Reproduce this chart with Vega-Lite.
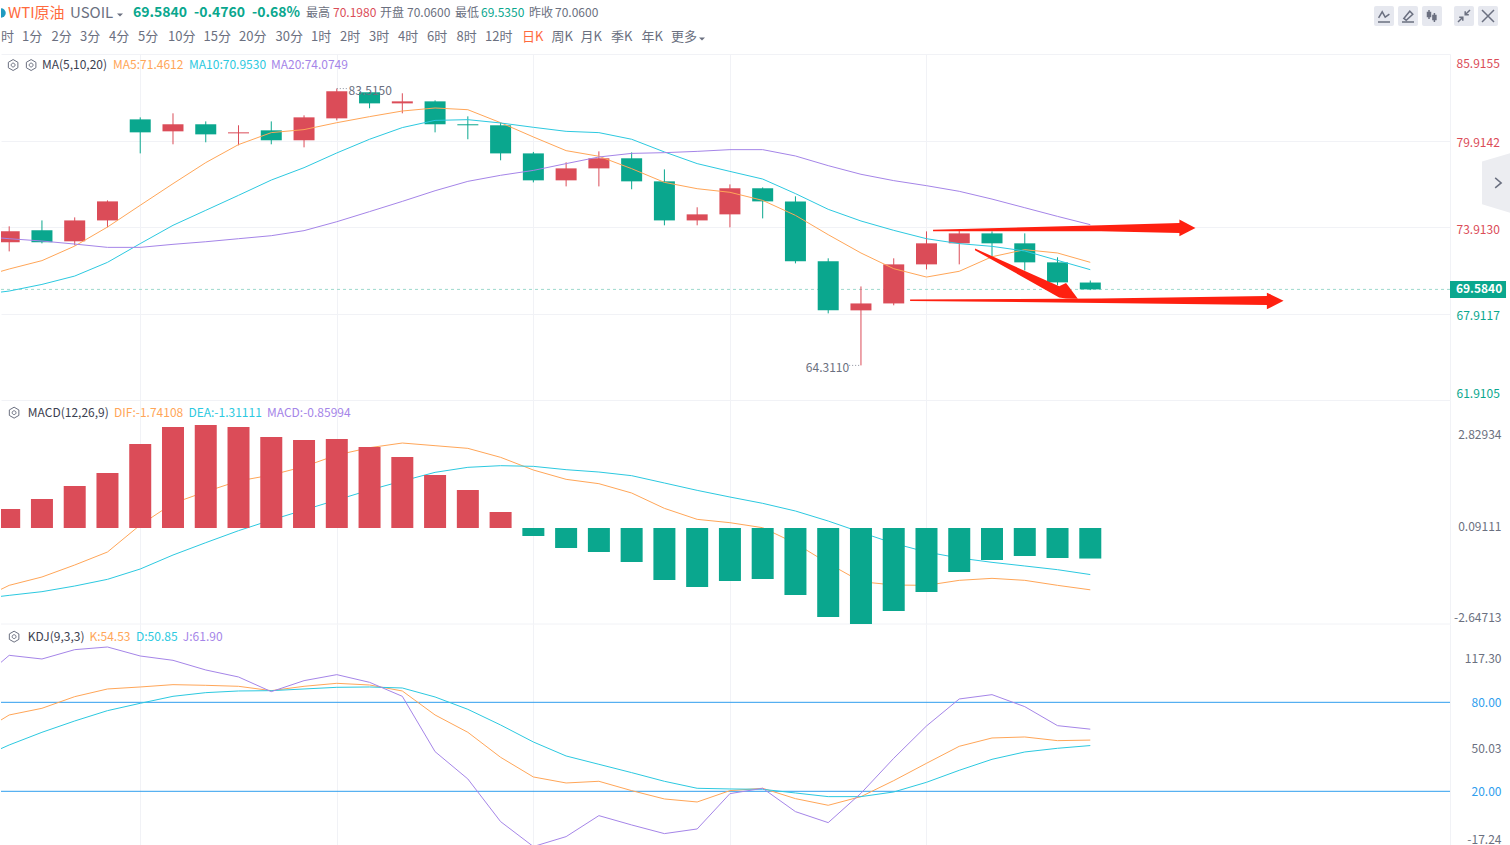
{
  "$schema": "https://vega.github.io/schema/vega-lite/v6.json",
  "description": "WTI USOIL daily candles with MA, MACD and KDJ panels",
  "background": "#ffffff",
  "padding": 0,
  "spacing": 0,
  "bounds": "flush",
  "resolve": {"scale": {"color": "independent", "shape": "independent"}},
  "config": {
    "font": "Noto Sans CJK SC",
    "text": {"font": "Noto Sans CJK SC"},
    "axis": {"labelFont": "Noto Sans CJK SC"}
  },
  "datasets": {
    "candles": [
      {"i":0,"open":72.85,"high":73.96,"low":72.22,"close":73.61},
      {"i":1,"open":73.68,"high":74.37,"low":72.78,"close":72.85},
      {"i":2,"open":72.92,"high":74.58,"low":72.64,"close":74.37},
      {"i":3,"open":74.37,"high":75.76,"low":73.89,"close":75.69},
      {"i":4,"open":81.38,"high":81.52,"low":79.02,"close":80.48},
      {"i":5,"open":80.55,"high":81.80,"low":79.65,"close":81.04},
      {"i":6,"open":81.04,"high":81.24,"low":79.79,"close":80.34},
      {"i":7,"open":80.41,"high":80.97,"low":79.58,"close":80.48},
      {"i":8,"open":80.62,"high":81.24,"low":79.65,"close":79.93},
      {"i":9,"open":79.93,"high":81.66,"low":79.44,"close":81.52},
      {"i":10,"open":81.45,"high":83.515,"low":81.31,"close":83.33},
      {"i":11,"open":83.26,"high":83.26,"low":82.15,"close":82.49},
      {"i":12,"open":82.49,"high":83.19,"low":81.80,"close":82.63},
      {"i":13,"open":82.63,"high":82.70,"low":80.48,"close":81.04},
      {"i":14,"open":81.04,"high":81.59,"low":80.00,"close":80.97},
      {"i":15,"open":80.97,"high":81.15,"low":78.54,"close":79.02},
      {"i":16,"open":79.02,"high":79.12,"low":77.01,"close":77.15},
      {"i":17,"open":77.15,"high":78.40,"low":76.73,"close":77.98},
      {"i":18,"open":77.98,"high":79.16,"low":76.73,"close":78.68},
      {"i":19,"open":78.68,"high":79.09,"low":76.53,"close":77.08},
      {"i":20,"open":77.08,"high":77.91,"low":74.03,"close":74.37},
      {"i":21,"open":74.37,"high":75.28,"low":74.03,"close":74.79},
      {"i":22,"open":74.79,"high":76.87,"low":73.89,"close":76.60},
      {"i":23,"open":76.60,"high":76.66,"low":74.51,"close":75.69},
      {"i":24,"open":75.69,"high":76.04,"low":71.39,"close":71.53},
      {"i":25,"open":71.53,"high":71.74,"low":67.92,"close":68.13},
      {"i":26,"open":68.13,"high":69.79,"low":64.311,"close":68.61},
      {"i":27,"open":68.61,"high":71.74,"low":68.48,"close":71.32},
      {"i":28,"open":71.32,"high":73.61,"low":70.97,"close":72.78},
      {"i":29,"open":72.78,"high":73.75,"low":71.32,"close":73.47},
      {"i":30,"open":73.47,"high":73.61,"low":71.83,"close":72.78},
      {"i":31,"open":72.78,"high":73.47,"low":70.90,"close":71.46},
      {"i":32,"open":71.46,"high":71.81,"low":69.86,"close":70.07},
      {"i":33,"open":70.06,"high":70.198,"low":69.535,"close":69.584}
    ],
    "ma": [
      {"i":-1,"ma5":70.35,"ma10":69.19,"ma20":73.29},
      {"i":0,"ma5":71.00,"ma10":69.47,"ma20":73.10},
      {"i":1,"ma5":71.58,"ma10":69.93,"ma20":72.94},
      {"i":2,"ma5":72.59,"ma10":70.51,"ma20":72.73},
      {"i":3,"ma5":73.91,"ma10":71.46,"ma20":72.50},
      {"i":4,"ma5":75.42,"ma10":72.76,"ma20":72.50},
      {"i":5,"ma5":76.92,"ma10":74.03,"ma20":72.71},
      {"i":6,"ma5":78.38,"ma10":75.07,"ma20":72.89},
      {"i":7,"ma5":79.63,"ma10":76.11,"ma20":73.10},
      {"i":8,"ma5":80.46,"ma10":77.17,"ma20":73.31},
      {"i":9,"ma5":80.67,"ma10":78.03,"ma20":73.66},
      {"i":10,"ma5":81.15,"ma10":79.05,"ma20":74.28},
      {"i":11,"ma5":81.57,"ma10":80.00,"ma20":74.98},
      {"i":12,"ma5":81.96,"ma10":80.81,"ma20":75.69},
      {"i":13,"ma5":82.17,"ma10":81.31,"ma20":76.43},
      {"i":14,"ma5":82.05,"ma10":81.36,"ma20":77.08},
      {"i":15,"ma5":81.15,"ma10":81.13,"ma20":77.50},
      {"i":16,"ma5":80.16,"ma10":80.83,"ma20":77.84},
      {"i":17,"ma5":79.21,"ma10":80.55,"ma20":78.31},
      {"i":18,"ma5":78.82,"ma10":80.46,"ma20":78.77},
      {"i":19,"ma5":77.96,"ma10":80.00,"ma20":79.02},
      {"i":20,"ma5":77.01,"ma10":79.12,"ma20":79.07},
      {"i":21,"ma5":76.57,"ma10":78.31,"ma20":79.16},
      {"i":22,"ma5":76.32,"ma10":77.77,"ma20":79.28},
      {"i":23,"ma5":75.76,"ma10":77.24,"ma20":79.28},
      {"i":24,"ma5":74.72,"ma10":76.23,"ma20":78.84},
      {"i":25,"ma5":73.38,"ma10":75.14,"ma20":78.17},
      {"i":26,"ma5":72.11,"ma10":74.33,"ma20":77.57},
      {"i":27,"ma5":71.02,"ma10":73.68,"ma20":77.13},
      {"i":28,"ma5":70.44,"ma10":73.10,"ma20":76.78},
      {"i":29,"ma5":70.84,"ma10":72.76,"ma20":76.39},
      {"i":30,"ma5":71.85,"ma10":72.57,"ma20":75.85},
      {"i":31,"ma5":72.34,"ma10":72.25,"ma20":75.25},
      {"i":32,"ma5":72.11,"ma10":71.60,"ma20":74.65},
      {"i":33,"ma5":71.4612,"ma10":70.953,"ma20":74.0749}
    ],
    "arrows": [
      {"arrow":"upper","i":28.20,"top":73.72,"bottom":73.62},
      {"arrow":"upper","i":33.33,"top":74.03,"bottom":73.61},
      {"arrow":"upper","i":35.72,"top":74.19,"bottom":73.50},
      {"arrow":"upper","i":35.72,"top":74.44,"bottom":73.27},
      {"arrow":"upper","i":36.21,"top":73.84,"bottom":73.84},
      {"arrow":"lower","i":27.50,"top":68.88,"bottom":68.78},
      {"arrow":"lower","i":33.33,"top":68.96,"bottom":68.64},
      {"arrow":"lower","i":38.39,"top":69.12,"bottom":68.50},
      {"arrow":"lower","i":38.39,"top":69.36,"bottom":68.20},
      {"arrow":"lower","i":38.90,"top":68.80,"bottom":68.80},
      {"arrow":"down","i":29.48,"top":72.42,"bottom":72.30},
      {"arrow":"down","i":32.05,"top":69.80,"bottom":69.03},
      {"arrow":"down","i":32.26,"top":70.03,"bottom":68.96},
      {"arrow":"down","i":32.62,"top":68.94,"bottom":68.94}
    ],
    "hist": [
      {"i":0,"hist":0.535},{"i":1,"hist":0.817},{"i":2,"hist":1.183},{"i":3,"hist":1.549},
      {"i":4,"hist":2.366},{"i":5,"hist":2.845},{"i":6,"hist":2.901},{"i":7,"hist":2.845},
      {"i":8,"hist":2.563},{"i":9,"hist":2.479},{"i":10,"hist":2.507},{"i":11,"hist":2.282},
      {"i":12,"hist":2.0},{"i":13,"hist":1.493},{"i":14,"hist":1.07},{"i":15,"hist":0.451},
      {"i":16,"hist":-0.225},{"i":17,"hist":-0.563},{"i":18,"hist":-0.676},{"i":19,"hist":-0.958},
      {"i":20,"hist":-1.465},{"i":21,"hist":-1.662},{"i":22,"hist":-1.493},{"i":23,"hist":-1.437},
      {"i":24,"hist":-1.887},{"i":25,"hist":-2.507},{"i":26,"hist":-2.704},{"i":27,"hist":-2.338},
      {"i":28,"hist":-1.803},{"i":29,"hist":-1.239},{"i":30,"hist":-0.901},{"i":31,"hist":-0.789},
      {"i":32,"hist":-0.845},{"i":33,"hist":-0.85994}
    ],
    "macd": [
      {"i":-1,"dif":-2.066,"dea":-2.009},
      {"i":0,"dif":-1.615,"dea":-1.897},
      {"i":1,"dif":-1.38,"dea":-1.793},
      {"i":2,"dif":-1.042,"dea":-1.634},
      {"i":3,"dif":-0.676,"dea":-1.446},
      {"i":4,"dif":0.085,"dea":-1.155},
      {"i":5,"dif":0.695,"dea":-0.761},
      {"i":6,"dif":1.023,"dea":-0.413},
      {"i":7,"dif":1.324,"dea":-0.075},
      {"i":8,"dif":1.493,"dea":0.225},
      {"i":9,"dif":1.728,"dea":0.507},
      {"i":10,"dif":2.056,"dea":0.789},
      {"i":11,"dif":2.263,"dea":1.07},
      {"i":12,"dif":2.394,"dea":1.324},
      {"i":13,"dif":2.319,"dea":1.568},
      {"i":14,"dif":2.244,"dea":1.709},
      {"i":15,"dif":1.991,"dea":1.756},
      {"i":16,"dif":1.634,"dea":1.737},
      {"i":17,"dif":1.371,"dea":1.643},
      {"i":18,"dif":1.249,"dea":1.577},
      {"i":19,"dif":0.986,"dea":1.474},
      {"i":20,"dif":0.554,"dea":1.268},
      {"i":21,"dif":0.244,"dea":1.061},
      {"i":22,"dif":0.15,"dea":0.873},
      {"i":23,"dif":0.009,"dea":0.695},
      {"i":24,"dif":-0.432,"dea":0.479},
      {"i":25,"dif":-0.995,"dea":0.197},
      {"i":26,"dif":-1.512,"dea":-0.122},
      {"i":27,"dif":-1.606,"dea":-0.432},
      {"i":28,"dif":-1.615,"dea":-0.676},
      {"i":29,"dif":-1.474,"dea":-0.845},
      {"i":30,"dif":-1.418,"dea":-0.967},
      {"i":31,"dif":-1.474,"dea":-1.07},
      {"i":32,"dif":-1.615,"dea":-1.174},
      {"i":33,"dif":-1.74108,"dea":-1.31111}
    ],
    "kdj": [
      {"i":-1,"k":57.98,"d":41.35,"j":92.81},
      {"i":0,"k":71.46,"d":51.24,"j":111.68},
      {"i":1,"k":75.96,"d":59.78,"j":109.21},
      {"i":2,"k":83.82,"d":67.42,"j":115.50},
      {"i":3,"k":88.99,"d":74.38,"j":117.30},
      {"i":4,"k":90.34,"d":79.33,"j":111.23},
      {"i":5,"k":91.91,"d":84.04,"j":108.31},
      {"i":6,"k":91.46,"d":86.52,"j":101.80},
      {"i":7,"k":90.79,"d":87.64,"j":97.08},
      {"i":8,"k":87.86,"d":87.86,"j":87.19},
      {"i":9,"k":90.79,"d":88.99,"j":94.61},
      {"i":10,"k":92.81,"d":90.11,"j":98.65},
      {"i":11,"k":91.68,"d":90.34,"j":93.48},
      {"i":12,"k":87.64,"d":89.66,"j":84.04},
      {"i":13,"k":71.46,"d":83.60,"j":46.74},
      {"i":14,"k":59.78,"d":75.28,"j":28.32},
      {"i":15,"k":42.92,"d":64.72,"j":-0.44},
      {"i":16,"k":29.67,"d":53.26,"j":-17.24},
      {"i":17,"k":25.62,"d":43.82,"j":-10.55},
      {"i":18,"k":26.75,"d":38.21,"j":3.60},
      {"i":19,"k":20.45,"d":32.59,"j":-2.69},
      {"i":20,"k":14.84,"d":26.75,"j":-8.53},
      {"i":21,"k":12.81,"d":22.03,"j":-5.39},
      {"i":22,"k":20.45,"d":21.58,"j":18.43},
      {"i":23,"k":22.03,"d":21.35,"j":22.03},
      {"i":24,"k":15.06,"d":18.88,"j":6.30},
      {"i":25,"k":10.57,"d":16.41,"j":-1.12},
      {"i":26,"k":16.41,"d":16.41,"j":18.66},
      {"i":27,"k":27.20,"d":19.56,"j":42.25},
      {"i":28,"k":38.88,"d":26.07,"j":64.05},
      {"i":29,"k":50.34,"d":34.16,"j":82.25},
      {"i":30,"k":55.96,"d":41.58,"j":85.17},
      {"i":31,"k":56.63,"d":46.52,"j":77.08},
      {"i":32,"k":54.16,"d":49.00,"j":64.27},
      {"i":33,"k":54.53,"d":50.85,"j":61.90}
    ],
    "headline": [
      {"col":7,"line":1,"label":"WTI原油","tone":"accent"},
      {"col":69,"line":1,"label":"USOIL","tone":"muted"}
    ],
    "quote": [
      {"col":132,"line":1,"label":"69.5840","tone":"down"},
      {"col":193,"line":1,"label":"-0.4760","tone":"down"},
      {"col":251,"line":1,"label":"-0.68%","tone":"down"}
    ],
    "stats": [
      {"col":305,"line":1,"label":"最高","tone":"muted"},
      {"col":332,"line":1,"label":"70.1980","tone":"up"},
      {"col":379,"line":1,"label":"开盘","tone":"muted"},
      {"col":406,"line":1,"label":"70.0600","tone":"muted"},
      {"col":454,"line":1,"label":"最低","tone":"muted"},
      {"col":480,"line":1,"label":"69.5350","tone":"down"},
      {"col":528,"line":1,"label":"昨收","tone":"muted"},
      {"col":554,"line":1,"label":"70.0600","tone":"muted"}
    ],
    "periods": [
      {"col":0,"line":2,"label":"时","tone":"muted"},
      {"col":21,"line":2,"label":"1分","tone":"muted"},
      {"col":50.5,"line":2,"label":"2分","tone":"muted"},
      {"col":79,"line":2,"label":"3分","tone":"muted"},
      {"col":108,"line":2,"label":"4分","tone":"muted"},
      {"col":137,"line":2,"label":"5分","tone":"muted"},
      {"col":167,"line":2,"label":"10分","tone":"muted"},
      {"col":202.5,"line":2,"label":"15分","tone":"muted"},
      {"col":238,"line":2,"label":"20分","tone":"muted"},
      {"col":274.5,"line":2,"label":"30分","tone":"muted"},
      {"col":310,"line":2,"label":"1时","tone":"muted"},
      {"col":339,"line":2,"label":"2时","tone":"muted"},
      {"col":368,"line":2,"label":"3时","tone":"muted"},
      {"col":397,"line":2,"label":"4时","tone":"muted"},
      {"col":426,"line":2,"label":"6时","tone":"muted"},
      {"col":455.5,"line":2,"label":"8时","tone":"muted"},
      {"col":484,"line":2,"label":"12时","tone":"muted"},
      {"col":521,"line":2,"label":"日K","tone":"accent"},
      {"col":550.5,"line":2,"label":"周K","tone":"muted"},
      {"col":579.5,"line":2,"label":"月K","tone":"muted"},
      {"col":610,"line":2,"label":"季K","tone":"muted"},
      {"col":640.5,"line":2,"label":"年K","tone":"muted"},
      {"col":670,"line":2,"label":"更多","tone":"muted"}
    ],
    "carets": [
      {"col":119,"line":1},
      {"col":701,"line":2}
    ],
    "tools": [
      {"col":1383,"line":1,"tool":"trend"},
      {"col":1407,"line":1,"tool":"pen"},
      {"col":1431,"line":1,"tool":"candle"},
      {"col":1463,"line":1,"tool":"shrink"},
      {"col":1487,"line":1,"tool":"close"}
    ]
  },
  "vconcat": [
    {
      "width": 1510,
      "height": 54,
      "view": {"stroke": null},
      "encoding": {
        "x": {"field": "col", "type": "quantitative", "scale": {"domain": [0, 1510], "nice": false}, "axis": null},
        "y": {"field": "line", "type": "ordinal", "scale": {"type": "point", "domain": [1, 2], "range": [13, 37], "padding": 0}, "axis": null},
        "color": {"field": "tone", "type": "nominal", "legend": null, "scale": {"domain": ["accent", "muted", "up", "down"], "range": ["#ff6a3d", "#6b7080", "#db4c58", "#0aa78e"]}}
      },
      "layer": [
        {
          "data": {"values": [{"col": 0, "line": 1}]},
          "mark": {"type": "point", "filled": true, "size": 90, "opacity": 1, "clip": true},
          "encoding": {"color": {"value": "#1f9ac0"}}
        },
        {
          "data": {"name": "headline"},
          "mark": {"type": "text", "align": "left", "baseline": "middle", "fontSize": 15},
          "encoding": {"text": {"field": "label"}}
        },
        {
          "data": {"name": "quote"},
          "mark": {"type": "text", "align": "left", "baseline": "middle", "fontSize": 14, "fontWeight": "bold"},
          "encoding": {"text": {"field": "label"}}
        },
        {
          "data": {"name": "stats"},
          "mark": {"type": "text", "align": "left", "baseline": "middle", "fontSize": 12},
          "encoding": {"text": {"field": "label"}}
        },
        {
          "data": {"name": "periods"},
          "mark": {"type": "text", "align": "left", "baseline": "middle", "fontSize": 13},
          "encoding": {"text": {"field": "label"}}
        },
        {
          "data": {"name": "carets"},
          "mark": {"type": "point", "filled": true, "size": 36, "yOffset": 2, "shape": "M-1,-0.5 L1,-0.5 L0,0.5 Z", "opacity": 1},
          "encoding": {"color": {"value": "#6b7080"}}
        },
        {
          "data": {"name": "tools"},
          "mark": {"type": "point", "filled": true, "size": 400, "yOffset": 3, "opacity": 1, "shape": "M-0.8,-1 L0.8,-1 Q1,-1 1,-0.8 L1,0.8 Q1,1 0.8,1 L-0.8,1 Q-1,1 -1,0.8 L-1,-0.8 Q-1,-1 -0.8,-1 Z"},
          "encoding": {"color": {"value": "#e6e8ef"}}
        },
        {
          "data": {"name": "tools"},
          "mark": {"type": "point", "filled": false, "size": 144, "yOffset": 3, "opacity": 1, "strokeWidth": 1.5},
          "encoding": {
            "color": {"value": "#6b7080"},
            "shape": {
              "field": "tool",
              "type": "nominal",
              "legend": null,
              "scale": {
                "domain": ["trend", "pen", "candle", "shrink", "close"],
                "range": [
                  "M-1,1 L1,1 M-0.9,0.3 L-0.3,-0.7 L0.2,0.2 L0.9,-0.3",
                  "M-1,1 L1,1 M-0.7,0.4 L0.3,-0.8 L0.8,-0.3 L-0.3,0.7 Z",
                  "M-0.5,-1 L-0.5,0.5 M-0.75,-0.6 L-0.25,-0.6 L-0.25,0.1 L-0.75,0.1 Z M0.4,-0.5 L0.4,1 M0.15,-0.1 L0.65,-0.1 L0.65,0.6 L0.15,0.6 Z",
                  "M1,-1 L0.2,-0.2 M-1,1 L-0.2,0.2 M0.2,-0.8 L0.2,-0.2 L0.8,-0.2 M-0.2,0.8 L-0.2,0.2 L-0.8,0.2",
                  "M-1,-1 L1,1 M-1,1 L1,-1"
                ]
              }
            }
          }
        }
      ]
    },
    {
      "width": 1449,
      "height": 346,
      "view": {"stroke": null},
      "encoding": {
        "x": {
          "field": "i",
          "type": "quantitative",
          "scale": {"domain": [-0.25, 43.98], "nice": false, "zero": false, "padding": 0},
          "axis": {"title": null, "values": [4, 10, 16, 22, 28, 43.98], "grid": true, "gridColor": "#f1f2f6", "labels": false, "ticks": false, "domain": false}
        }
      },
      "layer": [
        {
          "data": {"values": [{"i": -0.25, "end": 43.98, "price": 69.584}]},
          "mark": {"type": "rule", "color": "#9ed9cd", "strokeDash": [3, 3], "strokeWidth": 1},
          "encoding": {
            "x2": {"field": "end"},
            "y": {
              "field": "price",
              "type": "quantitative",
              "scale": {"domain": [61.9105, 85.9155], "nice": false, "zero": false, "padding": 0},
              "axis": {
                "orient": "right",
                "title": null,
                "values": [85.9155, 79.9142, 73.913, 67.9117, 61.9105],
                "format": ".4f",
                "grid": true,
                "gridColor": "#f1f2f6",
                "domain": false,
                "ticks": false,
                "labelPadding": 6,
                "labelFontSize": 12,
                "labelFlush": true,
                "labelFlushOffset": -2,
                "labelOffset": 2,
                "labelColor": {"condition": {"test": "datum.value > 70", "value": "#db4c58"}, "value": "#0aa78e"}
              }
            }
          }
        },
        {
          "data": {"name": "candles"},
          "mark": {"type": "rule", "strokeWidth": 1},
          "encoding": {
            "y": {"field": "low", "type": "quantitative", "title": null},
            "y2": {"field": "high"},
            "color": {"condition": {"test": "datum.close >= datum.open", "value": "#db4c58"}, "value": "#0aa78e"}
          }
        },
        {
          "data": {"name": "candles"},
          "mark": {"type": "bar", "size": 21, "clip": true},
          "encoding": {
            "y": {"field": "open", "type": "quantitative", "title": null},
            "y2": {"field": "close"},
            "color": {"condition": {"test": "datum.close >= datum.open", "value": "#db4c58"}, "value": "#0aa78e"}
          }
        },
        {
          "data": {"name": "ma"},
          "mark": {"type": "line", "color": "#ffa658", "strokeWidth": 1, "clip": true},
          "encoding": {"y": {"field": "ma5", "type": "quantitative", "title": null}}
        },
        {
          "data": {"name": "ma"},
          "mark": {"type": "line", "color": "#2cc9e0", "strokeWidth": 1, "clip": true},
          "encoding": {"y": {"field": "ma10", "type": "quantitative", "title": null}}
        },
        {
          "data": {"name": "ma"},
          "mark": {"type": "line", "color": "#a585e8", "strokeWidth": 1, "clip": true},
          "encoding": {"y": {"field": "ma20", "type": "quantitative", "title": null}}
        },
        {
          "data": {"name": "arrows"},
          "transform": [{"filter": "datum.arrow == 'upper'"}],
          "mark": {"type": "area", "color": "#ff2010", "line": false, "interpolate": "linear"},
          "encoding": {
            "y": {"field": "top", "type": "quantitative", "title": null, "stack": null},
            "y2": {"field": "bottom"}
          }
        },
        {
          "data": {"name": "arrows"},
          "transform": [{"filter": "datum.arrow == 'lower'"}],
          "mark": {"type": "area", "color": "#ff2010", "line": false, "interpolate": "linear"},
          "encoding": {
            "y": {"field": "top", "type": "quantitative", "title": null, "stack": null},
            "y2": {"field": "bottom"}
          }
        },
        {
          "data": {"name": "arrows"},
          "transform": [{"filter": "datum.arrow == 'down'"}],
          "mark": {"type": "area", "color": "#ff2010", "line": false, "interpolate": "linear"},
          "encoding": {
            "y": {"field": "top", "type": "quantitative", "title": null, "stack": null},
            "y2": {"field": "bottom"}
          }
        },
        {
          "data": {"values": [{"i": 43.98, "end": 45.69, "price": 69.584}]},
          "mark": {"type": "bar", "orient": "horizontal", "size": 17, "color": "#0aa78e", "clip": false},
          "encoding": {
            "x2": {"field": "end"},
            "y": {"field": "price", "type": "quantitative", "title": null}
          }
        },
        {
          "data": {"values": [{"i": 44.16, "price": 69.584}]},
          "mark": {"type": "text", "align": "left", "baseline": "middle", "fontSize": 12, "fontWeight": "bold", "color": "#ffffff"},
          "encoding": {
            "y": {"field": "price", "type": "quantitative", "title": null},
            "text": {"field": "price", "format": ".4f"}
          }
        },
        {
          "data": {"values": [{"i": 10, "end": 10.36, "price": 83.515}, {"i": 25.64, "end": 26, "price": 64.311}]},
          "mark": {"type": "rule", "color": "#8a8f9c", "strokeDash": [1, 2], "strokeWidth": 1},
          "encoding": {
            "x2": {"field": "end"},
            "y": {"field": "price", "type": "quantitative", "title": null}
          }
        },
        {
          "data": {"values": [{"i": 10.36, "price": 83.515}]},
          "mark": {"type": "text", "align": "left", "baseline": "middle", "fontSize": 12, "color": "#6b7080", "dy": 2},
          "encoding": {
            "y": {"field": "price", "type": "quantitative", "title": null},
            "text": {"field": "price", "format": ".4f"}
          }
        },
        {
          "data": {"values": [{"i": 25.64, "price": 64.311}]},
          "mark": {"type": "text", "align": "right", "baseline": "middle", "fontSize": 12, "color": "#6b7080", "dy": 3},
          "encoding": {
            "y": {"field": "price", "type": "quantitative", "title": null},
            "text": {"field": "price", "format": ".4f"}
          }
        },
        {
          "data": {"values": [
            {"i": 1.0, "at": 85.15, "label": "MA(5,10,20)", "tone": "name"},
            {"i": 3.17, "at": 85.15, "label": "MA5:71.4612", "tone": "first"},
            {"i": 5.49, "at": 85.15, "label": "MA10:70.9530", "tone": "second"},
            {"i": 7.99, "at": 85.15, "label": "MA20:74.0749", "tone": "third"}
          ]},
          "mark": {"type": "text", "align": "left", "baseline": "middle", "fontSize": 12},
          "encoding": {
            "y": {"field": "at", "type": "quantitative", "title": null},
            "text": {"field": "label"},
            "color": {"field": "tone", "type": "nominal", "legend": null, "scale": {"domain": ["name", "first", "second", "third"], "range": ["#3c4150", "#ffa658", "#2cc9e0", "#a585e8"]}}
          }
        },
        {
          "data": {"values": [{"i": 0.12, "at": 85.15}, {"i": 0.67, "at": 85.15}]},
          "mark": {"type": "point", "size": 120, "color": "#6b7080", "strokeWidth": 1, "opacity": 1, "shape": "M0,-1 L0.87,-0.5 L0.87,0.5 L0,1 L-0.87,0.5 L-0.87,-0.5 Z M0.35,0 A0.35,0.35 0 1 1 -0.35,0 A0.35,0.35 0 1 1 0.35,0 Z"},
          "encoding": {"y": {"field": "at", "type": "quantitative", "title": null}}
        },
        {
          "data": {"values": [{"i": 45.45, "price": 76.97}]},
          "mark": {"type": "point", "filled": true, "size": 3844, "color": "#ecedf1", "opacity": 1, "shape": "M0.52,-1 L0.52,1 L-0.52,0.69 L-0.52,-0.69 Z"},
          "encoding": {"y": {"field": "price", "type": "quantitative", "title": null}}
        },
        {
          "data": {"values": [{"i": 45.45, "price": 76.97}]},
          "mark": {"type": "point", "size": 100, "color": "#6b7080", "strokeWidth": 1.5, "opacity": 1, "shape": "M-0.6,-1 L0.6,0 L-0.6,1"},
          "encoding": {"y": {"field": "price", "type": "quantitative", "title": null}}
        }
      ]
    },
    {
      "width": 1449,
      "height": 224,
      "view": {"stroke": null},
      "encoding": {
        "x": {
          "field": "i",
          "type": "quantitative",
          "scale": {"domain": [-0.25, 43.98], "nice": false, "zero": false, "padding": 0},
          "axis": {"title": null, "values": [4, 10, 16, 22, 28, 43.98], "grid": true, "gridColor": "#f1f2f6", "labels": false, "ticks": false, "domain": false}
        }
      },
      "layer": [
        {
          "data": {"values": [{"i": -0.25, "end": 43.98, "level": -2.704}]},
          "mark": {"type": "rule", "color": "#f1f2f6", "strokeWidth": 1},
          "encoding": {
            "x2": {"field": "end"},
            "y": {"field": "level", "type": "quantitative", "title": null}
          }
        },
        {
          "data": {"name": "macd"},
          "mark": {"type": "line", "color": "#ffa658", "strokeWidth": 1, "clip": true},
          "encoding": {
            "y": {
              "field": "dif",
              "type": "quantitative",
              "scale": {"domain": [-2.704, 3.606], "nice": false, "zero": false},
              "axis": {
                "orient": "right",
                "title": null,
                "values": [2.648, 0.056, -2.507],
                "labelExpr": "datum.value > 1 ? '2.82934' : datum.value < -1 ? '-2.64713' : '0.09111'",
                "grid": false,
                "domain": false,
                "ticks": false,
                "labelAlign": "right",
                "labelPadding": 51,
                "labelFontSize": 12,
                "labelColor": "#6b7080"
              }
            }
          }
        },
        {
          "data": {"name": "macd"},
          "mark": {"type": "line", "color": "#2cc9e0", "strokeWidth": 1, "clip": true},
          "encoding": {"y": {"field": "dea", "type": "quantitative", "title": null}}
        },
        {
          "data": {"name": "hist"},
          "mark": {"type": "bar", "size": 22, "clip": true},
          "encoding": {
            "y": {"field": "hist", "type": "quantitative", "title": null},
            "y2": {"datum": 0},
            "color": {"condition": {"test": "datum.hist >= 0", "value": "#db4c58"}, "value": "#0aa78e"}
          }
        },
        {
          "data": {"values": [
            {"i": 0.57, "at": 3.249, "label": "MACD(12,26,9)", "tone": "name"},
            {"i": 3.2, "at": 3.249, "label": "DIF:-1.74108", "tone": "first"},
            {"i": 5.47, "at": 3.249, "label": "DEA:-1.31111", "tone": "second"},
            {"i": 7.87, "at": 3.249, "label": "MACD:-0.85994", "tone": "third"}
          ]},
          "mark": {"type": "text", "align": "left", "baseline": "middle", "fontSize": 12},
          "encoding": {
            "y": {"field": "at", "type": "quantitative", "title": null},
            "text": {"field": "label"},
            "color": {"field": "tone", "type": "nominal", "legend": null, "scale": {"domain": ["name", "first", "second", "third"], "range": ["#3c4150", "#ffa658", "#2cc9e0", "#a585e8"]}}
          }
        },
        {
          "data": {"values": [{"i": 0.15, "at": 3.249}]},
          "mark": {"type": "point", "size": 120, "color": "#6b7080", "strokeWidth": 1, "opacity": 1, "shape": "M0,-1 L0.87,-0.5 L0.87,0.5 L0,1 L-0.87,0.5 L-0.87,-0.5 Z M0.35,0 A0.35,0.35 0 1 1 -0.35,0 A0.35,0.35 0 1 1 0.35,0 Z"},
          "encoding": {"y": {"field": "at", "type": "quantitative", "title": null}}
        }
      ]
    },
    {
      "width": 1449,
      "height": 221,
      "view": {"stroke": null},
      "encoding": {
        "x": {
          "field": "i",
          "type": "quantitative",
          "scale": {"domain": [-0.25, 43.98], "nice": false, "zero": false, "padding": 0},
          "axis": {"title": null, "values": [4, 10, 16, 22, 28, 43.98], "grid": true, "gridColor": "#f1f2f6", "labels": false, "ticks": false, "domain": false}
        }
      },
      "layer": [
        {
          "data": {"values": [{"i": -0.25, "end": 43.98, "level": 80}, {"i": -0.25, "end": 43.98, "level": 20}]},
          "mark": {"type": "rule", "color": "#2f9eee", "strokeWidth": 1},
          "encoding": {
            "x2": {"field": "end"},
            "y": {
              "field": "level",
              "type": "quantitative",
              "scale": {"domain": [-16.2, 132.8], "nice": false, "zero": false},
              "axis": {
                "orient": "right",
                "title": null,
                "values": [109.8, 80, 49, 20, -12.5],
                "labelExpr": "datum.value == 109.8 ? '117.30' : datum.value == 49 ? '50.03' : datum.value == -12.5 ? '-17.24' : format(datum.value, '.2f')",
                "grid": false,
                "domain": false,
                "ticks": false,
                "labelAlign": "right",
                "labelPadding": 51,
                "labelFontSize": 12,
                "labelColor": {"condition": {"test": "datum.value == 80 || datum.value == 20", "value": "#2f9eee"}, "value": "#6b7080"}
              }
            }
          }
        },
        {
          "data": {"name": "kdj"},
          "mark": {"type": "line", "color": "#ffa658", "strokeWidth": 1, "clip": true},
          "encoding": {"y": {"field": "k", "type": "quantitative", "title": null}}
        },
        {
          "data": {"name": "kdj"},
          "mark": {"type": "line", "color": "#2cc9e0", "strokeWidth": 1, "clip": true},
          "encoding": {"y": {"field": "d", "type": "quantitative", "title": null}}
        },
        {
          "data": {"name": "kdj"},
          "mark": {"type": "line", "color": "#a585e8", "strokeWidth": 1, "clip": true},
          "encoding": {"y": {"field": "j", "type": "quantitative", "title": null}}
        },
        {
          "data": {"values": [
            {"i": 0.57, "at": 124.27, "label": "KDJ(9,3,3)", "tone": "name"},
            {"i": 2.45, "at": 124.27, "label": "K:54.53", "tone": "first"},
            {"i": 3.87, "at": 124.27, "label": "D:50.85", "tone": "second"},
            {"i": 5.3, "at": 124.27, "label": "J:61.90", "tone": "third"}
          ]},
          "mark": {"type": "text", "align": "left", "baseline": "middle", "fontSize": 12},
          "encoding": {
            "y": {"field": "at", "type": "quantitative", "title": null},
            "text": {"field": "label"},
            "color": {"field": "tone", "type": "nominal", "legend": null, "scale": {"domain": ["name", "first", "second", "third"], "range": ["#3c4150", "#ffa658", "#2cc9e0", "#a585e8"]}}
          }
        },
        {
          "data": {"values": [{"i": 0.15, "at": 124.27}]},
          "mark": {"type": "point", "size": 120, "color": "#6b7080", "strokeWidth": 1, "opacity": 1, "shape": "M0,-1 L0.87,-0.5 L0.87,0.5 L0,1 L-0.87,0.5 L-0.87,-0.5 Z M0.35,0 A0.35,0.35 0 1 1 -0.35,0 A0.35,0.35 0 1 1 0.35,0 Z"},
          "encoding": {"y": {"field": "at", "type": "quantitative", "title": null}}
        }
      ]
    }
  ]
}
